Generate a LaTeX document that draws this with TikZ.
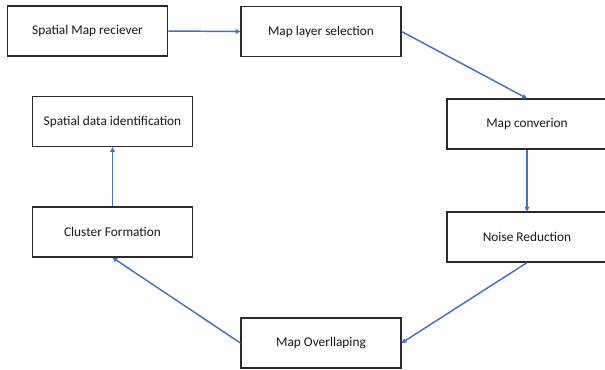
\documentclass[tikz,border=0pt]{standalone}
\usepackage{fontspec}
\setmainfont{Carlito}
\usetikzlibrary{arrows.meta}
\definecolor{flowblue}{HTML}{4472C4}
\definecolor{boxline}{HTML}{2B2B2B}
\definecolor{labeltext}{HTML}{1A1A1A}
\tikzset{
  stepbox/.style={draw=boxline, line width=0.9pt, fill=white, rectangle,
    minimum width=120pt, minimum height=37.5pt, inner sep=0pt,
    text=labeltext, font=\fontsize{10}{12}\selectfont},
  flow/.style={draw=flowblue, line width=1.1pt,
    -{Triangle[length=3.5pt,width=3.5pt]}}
}
\begin{document}
\begin{tikzpicture}[x=0.75pt,y=-0.75pt]
\useasboundingbox (0,0) rectangle (605,369);
\node[stepbox] (recv)  at (87.5,31)  {Spatial Map reciever};
\node[stepbox] (layer) at (321,31.5) {Map layer selection};
\node[stepbox] (conv)  at (527,124)  {Map converion};
\node[stepbox] (noise) at (527,237)  {Noise Reduction};
\node[stepbox] (over)  at (321,343)  {Map Overllaping};
\node[stepbox] (clust) at (112.5,232) {Cluster Formation};
\node[stepbox] (ident) at (112.5,121.5) {Spatial data identification};

\draw[flow] (recv.east) -- (layer.west);
\draw[flow] (layer.east) -- (conv.north);
\draw[flow] (conv.south) -- (noise.north);
\draw[flow] (noise.south) -- (over.east);
\draw[flow] (over.west) -- (clust.south);
\draw[flow] (clust.north) -- (ident.south);
\end{tikzpicture}
\end{document}
